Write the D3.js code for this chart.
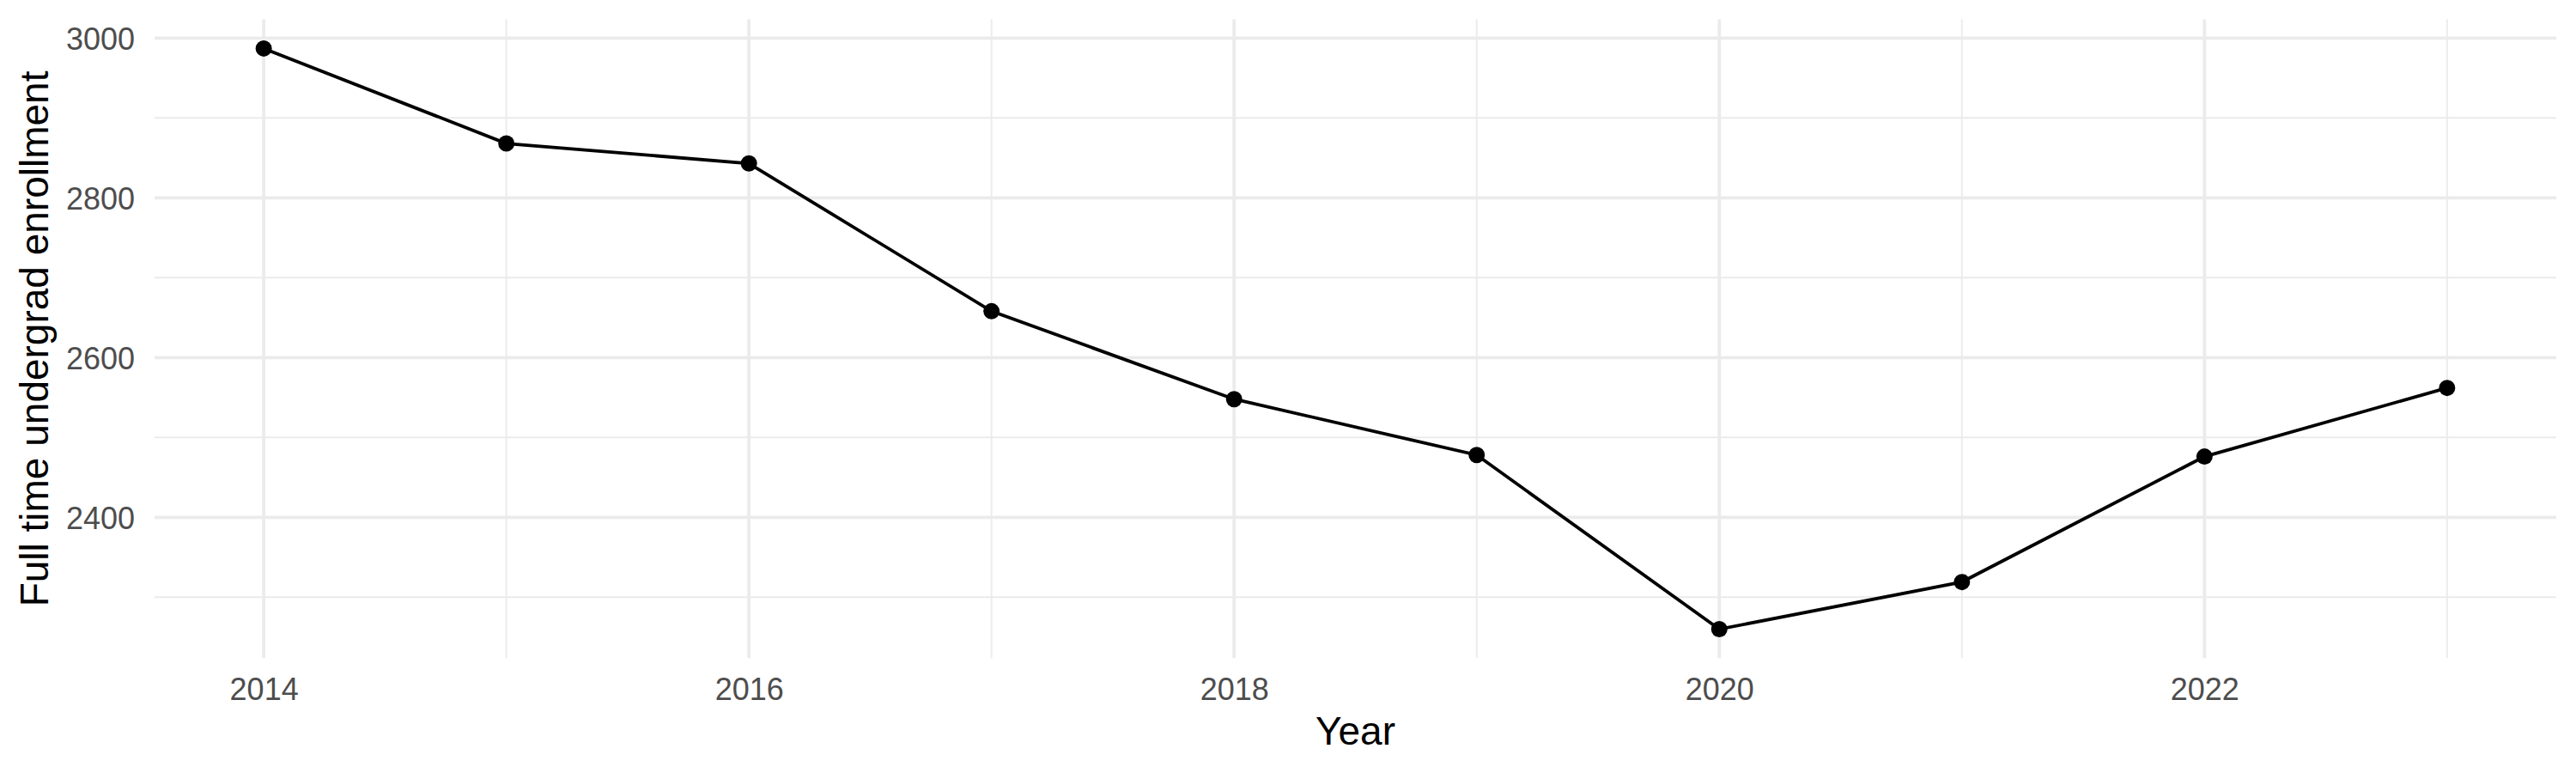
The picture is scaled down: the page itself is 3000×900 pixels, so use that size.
<!DOCTYPE html>
<html lang="en">
<head>
  <meta charset="UTF-8"/>
  <title>Full time undergrad enrollment</title>
  <style>
    *{margin:0;padding:0}
    body{background:#fff;font-family:"Liberation Sans",Arial,Helvetica,sans-serif}
    svg{display:block}
  </style>
</head>
<body>
  <div id="chart"></div>
  <script src="https://d3js.org/d3.v7.min.js"></script>
  <script>
    // enrollment by year
    const years = [2014, 2015, 2016, 2017, 2018, 2019, 2020, 2021, 2022, 2023];
    const enrollment = [2987, 2868, 2843, 2658, 2548, 2478, 2260, 2319, 2476, 2562];

    const xMajor = [2014, 2016, 2018, 2020, 2022];
    const xMinor = [2015, 2017, 2019, 2021, 2023];
    const yMajor = [2400, 2600, 2800, 3000];
    const yMinor = [2300, 2500, 2700, 2900];

    const data = years.map((y, i) => ({ year: y, value: enrollment[i] }));

    const width = 3000, height = 900;
    const panel = { left: 180, right: 2977, top: 22.6, bottom: 766.3 };

    // ggplot-like expansion, 5% of the range on both axes
    const xr = d3.extent(years), yr = d3.extent(enrollment);
    const xPad = (xr[1] - xr[0]) * 0.05, yPad = (yr[1] - yr[0]) * 0.05;

    const x = d3.scaleLinear()
      .domain([xr[0] - xPad, xr[1] + xPad])
      .range([panel.left, panel.right]);
    const y = d3.scaleLinear()
      .domain([yr[0] - yPad, yr[1] + yPad])
      .range([panel.bottom, panel.top]);

    const svg = d3.select('#chart').append('svg')
      .attr('width', width).attr('height', height)
      .attr('viewBox', [0, 0, width, height]);

    const grid = svg.append('g').attr('stroke', '#EBEBEB').attr('fill', 'none');

    // minor grid
    grid.selectAll('.ymin').data(yMinor).join('line')
      .attr('x1', panel.left).attr('x2', panel.right)
      .attr('y1', d => y(d)).attr('y2', d => y(d))
      .attr('stroke-width', 1.9);
    grid.selectAll('.xmin').data(xMinor).join('line')
      .attr('y1', panel.top).attr('y2', panel.bottom)
      .attr('x1', d => x(d)).attr('x2', d => x(d))
      .attr('stroke-width', 1.9);

    // major grid
    grid.selectAll('.ymaj').data(yMajor).join('line')
      .attr('x1', panel.left).attr('x2', panel.right)
      .attr('y1', d => y(d)).attr('y2', d => y(d))
      .attr('stroke-width', 3.8);
    grid.selectAll('.xmaj').data(xMajor).join('line')
      .attr('y1', panel.top).attr('y2', panel.bottom)
      .attr('x1', d => x(d)).attr('x2', d => x(d))
      .attr('stroke-width', 3.8);

    // axes (labels only, no domain line or ticks)
    const xAxis = svg.append('g')
      .attr('transform', `translate(0,${panel.bottom})`)
      .call(d3.axisBottom(x).tickValues(xMajor).tickFormat(d3.format('d')).tickSize(0).tickPadding(0));
    const yAxis = svg.append('g')
      .attr('transform', `translate(${panel.left},0)`)
      .call(d3.axisLeft(y).tickValues(yMajor).tickFormat(d3.format('d')).tickSize(0).tickPadding(23));
    [xAxis, yAxis].forEach(a => {
      a.select('.domain').remove();
      a.selectAll('text')
        .attr('fill', '#4D4D4D')
        .style('font-family', '"Liberation Sans",Arial,sans-serif')
        .style('font-size', '36px');
    });
    xAxis.selectAll('text').attr('dy', null).attr('y', 49);
    yAxis.selectAll('text').attr('dy', '0.36em');

    // axis titles
    svg.append('text')
      .attr('x', (panel.left + panel.right) / 2).attr('y', 867)
      .attr('text-anchor', 'middle')
      .style('font-size', '46px').attr('fill', '#000')
      .text('Year');
    svg.append('text')
      .attr('transform', `translate(56,${(panel.top + panel.bottom) / 2}) rotate(-90)`)
      .attr('text-anchor', 'middle')
      .style('font-size', '46px').attr('fill', '#000')
      .text('Full time undergrad enrollment');

    // line + points
    const line = d3.line().x(d => x(d.year)).y(d => y(d.value));
    svg.append('path').datum(data)
      .attr('d', line)
      .attr('fill', 'none')
      .attr('stroke', '#000')
      .attr('stroke-width', 3.8);
    svg.selectAll('circle.pt').data(data).join('circle')
      .attr('class', 'pt')
      .attr('cx', d => x(d.year)).attr('cy', d => y(d.value))
      .attr('r', 9.5).attr('fill', '#000');
  </script>
</body>
</html>
